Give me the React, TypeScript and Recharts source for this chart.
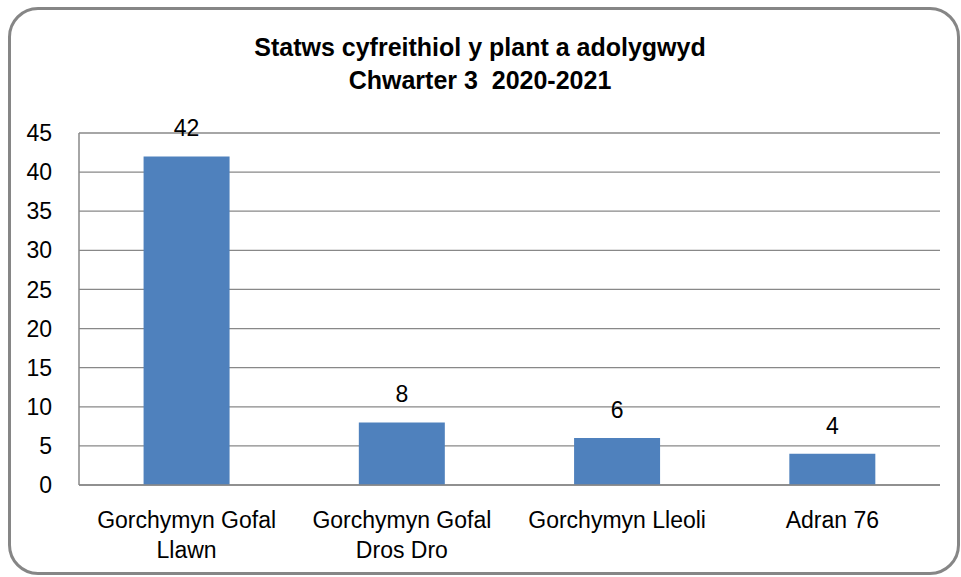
import React from 'react';
import { BarChart, Bar, XAxis, YAxis, CartesianGrid, LabelList } from 'recharts';

const categories = ['Gorchymyn Gofal Llawn', 'Gorchymyn Gofal Dros Dro', 'Gorchymyn Lleoli', 'Adran 76'];
const categoryLines = [['Gorchymyn Gofal', 'Llawn'], ['Gorchymyn Gofal', 'Dros Dro'], ['Gorchymyn Lleoli'], ['Adran 76']];
const values = [42, 8, 6, 4];
const yTicks = [0, 5, 10, 15, 20, 25, 30, 35, 40, 45];
const titleLines = ['Statws cyfreithiol y plant a adolygwyd', 'Chwarter 3  2020-2021'];

const data = categories.map((c, i) => ({ name: c, value: values[i], idx: i }));

const FONT = "'Liberation Sans', Arial, sans-serif";

const XTick = (props: any) => {
  const { x, y, payload } = props;
  const lines = categoryLines[payload.index] || [payload.value];
  return (
    <g>
      {lines.map((l: string, i: number) => (
        <text key={i} x={x} y={y + 43 + i * 30} textAnchor="middle" fontFamily={FONT} fontSize={23} fill="#000">
          {l}
        </text>
      ))}
    </g>
  );
};

export default function App() {
  return (
    <div style={{ position: 'absolute', left: 0, top: 0, width: 961, height: 577, background: '#fff' }}>
      <div
        style={{
          position: 'absolute',
          left: 8,
          top: 7,
          width: 952,
          height: 568,
          boxSizing: 'border-box',
          border: '3px solid #868686',
          borderRadius: 30,
        }}
      />
      <div style={{ position: 'absolute', left: 0, top: 0 }}>
        <BarChart
          width={961}
          height={577}
          data={data}
          margin={{ top: 133, right: 21, bottom: 0, left: 0 }}
          barCategoryGap="30%"
        >
          <text x={480} y={56} textAnchor="middle" fontFamily={FONT} fontWeight="bold" fontSize={25} fill="#000" style={{ whiteSpace: 'pre' }}>
            {titleLines[0]}
          </text>
          <text x={480} y={89} textAnchor="middle" fontFamily={FONT} fontWeight="bold" fontSize={25} fill="#000" style={{ whiteSpace: 'pre' }}>
            {titleLines[1]}
          </text>
          <CartesianGrid vertical={false} stroke="#888" strokeWidth={1.3} />
          <XAxis
            dataKey="name"
            height={92}
            stroke="#888"
            strokeWidth={1.5}
            tickLine={false}
            tickSize={0}
            tickMargin={0}
            interval={0}
            tick={<XTick />}
          />
          <YAxis
            width={79}
            domain={[0, 45]}
            ticks={yTicks}
            stroke="#888"
            strokeWidth={1.5}
            tickLine={false}
            tickSize={0}
            tickMargin={27}
            tick={{ fill: '#000', fontSize: 23, fontFamily: FONT }}
          />
          <Bar dataKey="value" fill="#4F81BD" isAnimationActive={false}>
            <LabelList dataKey="value" position="top" offset={20} fill="#000" fontSize={23} fontFamily={FONT} />
          </Bar>
        </BarChart>
      </div>
    </div>
  );
}
